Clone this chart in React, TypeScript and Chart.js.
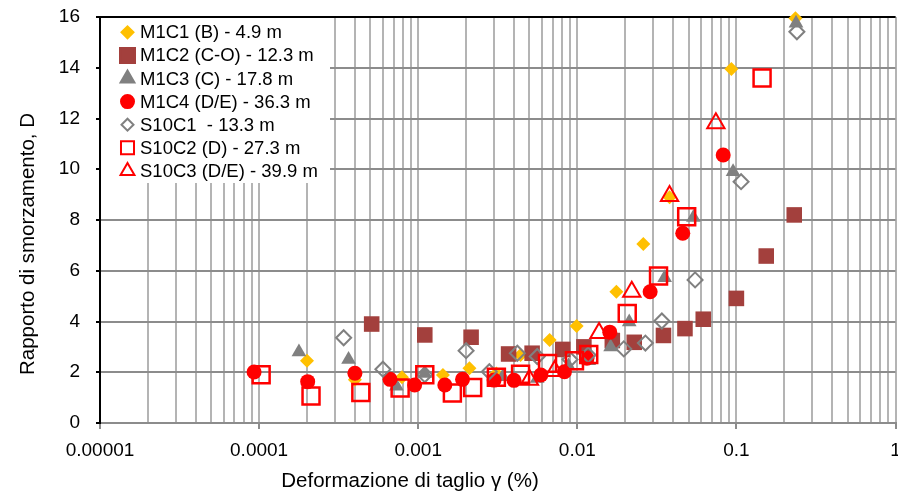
import React, { useEffect, useRef } from 'react';
import { Chart, registerables } from 'chart.js';
import { drawPoint } from 'chart.js/helpers';

Chart.register(...registerables);

// Axis ticks
const xDecades = [0.00001, 0.0001, 0.001, 0.01, 0.1, 1];
const xTickLabels = ['0.00001', '0.0001', '0.001', '0.01', '0.1', '1'];
const yMin = 0;
const yMax = 16;
const yStep = 2;

const xTitle = 'Deformazione di taglio \u03b3 (%)';
const yTitle = 'Rapporto di smorzamento, D';

const seriesNames = [
  'M1C1 (B) - 4.9 m',
  'M1C2 (C-O) - 12.3 m',
  'M1C3 (C) - 17.8 m',
  'M1C4 (D/E) - 36.3 m',
  'S10C1  - 13.3 m',
  'S10C2 (D) - 27.3 m',
  'S10C3 (D/E) - 39.9 m',
];

// Shear strain (%) and damping ratio D for each sample
const m1c1X = [0.0002, 0.0004, 0.00079, 0.00143, 0.0021, 0.0031, 0.0044, 0.0067, 0.0099, 0.0176, 0.026, 0.038, 0.093, 0.235];
const m1c1Y = [2.45, 1.7, 1.8, 1.89, 2.16, 1.95, 2.68, 3.27, 3.82, 5.17, 7.05, 8.9, 13.95, 15.95];

const m1c2X = [0.00051, 0.0011, 0.00215, 0.0037, 0.0052, 0.0081, 0.011, 0.0166, 0.0228, 0.0348, 0.0475, 0.0619, 0.1, 0.154, 0.231];
const m1c2Y = [3.9, 3.47, 3.38, 2.72, 2.75, 2.9, 3.0, 3.25, 3.18, 3.45, 3.72, 4.09, 4.91, 6.58, 8.2];

const m1c3X = [0.000178, 0.000365, 0.00073, 0.0011, 0.0034, 0.0056, 0.0088, 0.0118, 0.0162, 0.0212, 0.0354, 0.0537, 0.0953, 0.237];
const m1c3Y = [2.8, 2.5, 1.45, 1.95, 1.82, 1.75, 2.25, 2.45, 3.0, 3.98, 5.72, 8.1, 9.9, 15.75];

const m1c4X = [0.000093, 0.000202, 0.0004, 0.000665, 0.00095, 0.00147, 0.0019, 0.003, 0.004, 0.0059, 0.0083, 0.0115, 0.016, 0.0287, 0.046, 0.0826];
const m1c4Y = [2.01, 1.63, 1.96, 1.72, 1.5, 1.5, 1.72, 1.69, 1.68, 1.89, 2.02, 2.55, 3.58, 5.17, 7.48, 10.56];

const s10c1X = [0.00034, 0.0006, 0.0011, 0.002, 0.0028, 0.0042, 0.0056, 0.009, 0.0117, 0.0196, 0.0268, 0.034, 0.055, 0.107, 0.24];
const s10c1Y = [3.36, 2.12, 1.9, 2.85, 2.02, 2.75, 2.62, 2.5, 2.68, 2.92, 3.15, 4.02, 5.64, 9.51, 15.42];

const s10c2X = [0.000103, 0.000212, 0.000436, 0.00077, 0.0011, 0.00164, 0.0022, 0.0031, 0.0044, 0.0065, 0.0096, 0.0118, 0.0206, 0.0324, 0.0487, 0.145];
const s10c2Y = [1.9, 1.06, 1.2, 1.38, 1.9, 1.18, 1.4, 1.8, 1.92, 2.35, 2.45, 2.7, 4.32, 5.79, 8.13, 13.6];

const s10c3X = [0.005, 0.0072, 0.0137, 0.022, 0.038, 0.0743];
const s10c3Y = [1.7, 2.05, 3.55, 5.17, 8.95, 11.81];

const seriesX = [m1c1X, m1c2X, m1c3X, m1c4X, s10c1X, s10c2X, s10c3X];
const seriesY = [m1c1Y, m1c2Y, m1c3Y, m1c4Y, s10c1Y, s10c2Y, s10c3Y];

// Marker appearance per series
const markers = [
  { style: 'rectRot', r: 7, lr: 6, fill: '#FFC000', stroke: '#FFC000', bw: 0 },
  { style: 'rect', r: 11, lr: 10.6, fill: '#A3403D', stroke: '#A3403D', bw: 0 },
  { style: 'triangle', r: 8.5, lr: 8, fill: '#808080', stroke: '#808080', bw: 0 },
  { style: 'circle', r: 7.5, lr: 6.5, fill: '#FF0000', stroke: '#FF0000', bw: 0 },
  { style: 'rectRot', r: 7.5, lr: 6, fill: 'rgba(0,0,0,0)', stroke: '#808080', bw: 2 },
  { style: 'rect', r: 12, lr: 9.2, fill: 'rgba(0,0,0,0)', stroke: '#FF0000', bw: 2.5 },
  { style: 'triangle', r: 10, lr: 8, fill: 'rgba(0,0,0,0)', stroke: '#FF0000', bw: 2 },
];

const FONT = "'Liberation Sans', Arial, sans-serif";

const isDecade = (v: number) => Math.abs(Math.log10(v) - Math.round(Math.log10(v))) < 1e-6;

const decorPlugin = {
  id: 'decor',
  beforeDatasetsDraw(chart: any) {
    const { ctx, chartArea } = chart;
    ctx.save();
    ctx.strokeStyle = '#000';
    ctx.lineWidth = 2;
    ctx.beginPath();
    ctx.moveTo(chartArea.left - 1, chartArea.top);
    ctx.lineTo(chartArea.right, chartArea.top);
    ctx.stroke();
    ctx.restore();
  },
  afterDraw(chart: any) {
    const { ctx, chartArea } = chart;
    ctx.save();

    // legend inside the plot area
    ctx.fillStyle = '#ffffff';
    ctx.fillRect(chartArea.left + 1, chartArea.top + 1, 229, 165);
    ctx.font = `18.5px ${FONT}`;
    ctx.textBaseline = 'middle';
    ctx.textAlign = 'left';
    seriesNames.forEach((name, i) => {
      const m = markers[i];
      const y = chartArea.top + 15.3 + i * 23.1;
      ctx.fillStyle = m.fill;
      ctx.strokeStyle = m.stroke;
      ctx.lineWidth = m.bw > 0 ? Math.min(m.bw, 2) : 0;
      drawPoint(ctx, { pointStyle: m.style, radius: m.lr, rotation: 0, borderWidth: ctx.lineWidth } as any, 127.5, y);
      ctx.fillStyle = '#000';
      ctx.fillText(name, 140, y + 1);
    });

    // axis titles
    ctx.fillStyle = '#000';
    ctx.font = `20.5px ${FONT}`;
    ctx.textAlign = 'center';
    ctx.textBaseline = 'middle';
    ctx.fillText(xTitle, 410, 481);
    ctx.translate(28.5, 244);
    ctx.rotate(-Math.PI / 2);
    ctx.fillText(yTitle, 0, 0);
    ctx.restore();
  },
};

export default function App() {
  const canvasRef = useRef<HTMLCanvasElement | null>(null);

  useEffect(() => {
    const canvas = canvasRef.current;
    if (!canvas) return;

    const datasets = seriesNames.map((name, i) => {
      const m = markers[i];
      return {
        label: name,
        data: seriesX[i].map((x, j) => ({ x, y: seriesY[i][j] })),
        showLine: false,
        pointStyle: m.style,
        pointRadius: m.r,
        pointHoverRadius: m.r,
        pointBackgroundColor: m.fill,
        pointBorderColor: m.stroke,
        pointBorderWidth: m.bw,
        order: seriesNames.length - i,
        clip: false as any,
      };
    });

    const chart = new Chart(canvas, {
      type: 'scatter',
      data: { datasets },
      plugins: [decorPlugin],
      options: {
        animation: false,
        responsive: false,
        devicePixelRatio: 1,
        events: [],
        layout: { padding: { left: 0, right: 10, top: 17, bottom: 0 } },
        plugins: {
          legend: { display: false },
          tooltip: { enabled: false },
          title: { display: false },
        },
        scales: {
          x: {
            type: 'logarithmic',
            position: 'bottom',
            min: xDecades[0],
            max: xDecades[xDecades.length - 1],
            afterBuildTicks: (scale: any) => {
              const ticks: any[] = [];
              xDecades.forEach((d, i) => {
                if (i === xDecades.length - 1) {
                  ticks.push({ value: d, major: true });
                  return;
                }
                for (let k = 1; k <= 9; k++) ticks.push({ value: k * d, major: k === 1 });
              });
              scale.ticks = ticks;
            },
            afterFit: (scale: any) => {
              scale.height = 70;
              scale.paddingLeft = 0;
              scale.paddingRight = 0;
            },
            ticks: {
              autoSkip: false,
              maxRotation: 0,
              minRotation: 0,
              padding: 10,
              color: '#000',
              font: { family: FONT, size: 19 },
              callback: (value: any) => {
                const v = Number(value);
                if (!isDecade(v)) return '';
                const idx = xDecades.findIndex((d) => Math.abs(Math.log10(d) - Math.log10(v)) < 1e-6);
                return idx >= 0 ? xTickLabels[idx] : '';
              },
            },
            grid: {
              color: '#b4b4b4',
              lineWidth: 2,
              tickLength: 6,
              tickWidth: 2,
              tickColor: (c: any) => (c.tick && isDecade(c.tick.value) ? '#8c8c8c' : 'rgba(0,0,0,0)'),
            },
            border: { color: '#8c8c8c', width: 2 },
          },
          y: {
            type: 'linear',
            position: 'left',
            min: yMin,
            max: yMax,
            afterFit: (scale: any) => {
              scale.width = 100;
              scale.paddingTop = 0;
              scale.paddingBottom = 0;
            },
            ticks: {
              stepSize: yStep,
              padding: 16,
              color: '#000',
              font: { family: FONT, size: 19 },
            },
            grid: {
              color: '#8c8c8c',
              lineWidth: 2,
              tickLength: 4,
              tickWidth: 2,
              tickColor: '#000',
            },
            border: { color: '#000', width: 2 },
          },
        },
      },
    } as any);

    return () => chart.destroy();
  }, []);

  return (
    <div
      style={{
        position: 'fixed',
        left: 0,
        top: 0,
        width: 898,
        height: 493,
        overflow: 'hidden',
        background: '#ffffff',
      }}
    >
      <canvas ref={canvasRef} width={910} height={493} style={{ display: 'block', width: 910, height: 493 }} />
    </div>
  );
}
